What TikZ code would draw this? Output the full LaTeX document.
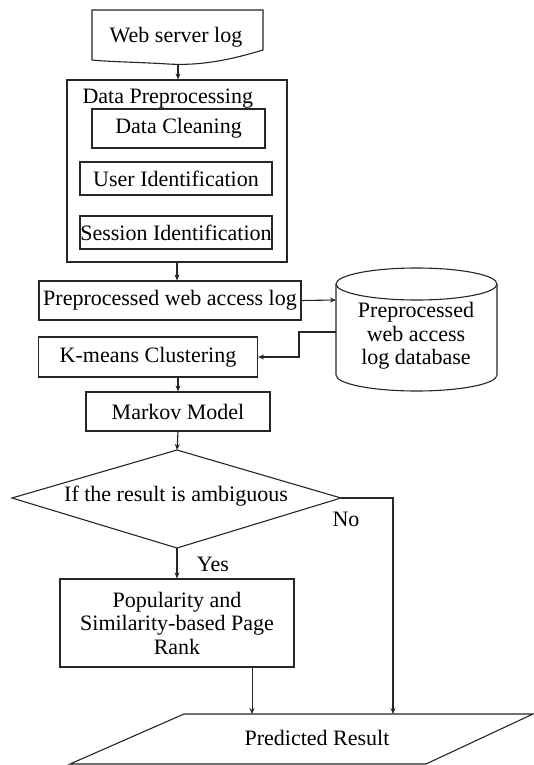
\documentclass[tikz,border=0pt]{standalone}
\usepackage{fontspec}
\setmainfont{Liberation Serif}
\usetikzlibrary{arrows.meta}
\begin{document}
\begin{tikzpicture}[x=1pt,y=-1pt,
  line width=1.1pt, draw=black!85,
  txt/.style={font=\fontsize{22}{23.5}\selectfont, inner sep=0pt, align=center},
  box/.style={txt, draw, rectangle},
  arr/.style={-{Stealth[length=6pt,width=5pt]}},
  lbl/.style={font=\fontsize{22}{23.5}\selectfont, inner sep=0pt}]
\useasboundingbox[fill=white] (0,0) rectangle (534,765);

% Web server log (document shape)
\draw (92,10) -- (263,10) -- (263,50)
  .. controls (230,60) and (200,66) .. (168,64)
  .. controls (135,62) and (112,62) .. (92,60) -- cycle;
\node[txt] (web) at (176,37) {Web server log};
\coordinate (webbot) at (178,64);

% Data preprocessing
\node[box, minimum width=220pt, minimum height=182pt] (prep) at (177,171) {};
\node[lbl, anchor=base west] (preptitle) at (82,104) {Data Preprocessing};
\node[box, minimum width=173pt, minimum height=39pt] (clean) at (178.5,128.5) {Data Cleaning};
\node[box, minimum width=192pt, minimum height=33pt] (user) at (176,178.5) {User Identification};
\node[box, minimum width=192pt, minimum height=33pt] (sess) at (176,232.5) {Session Identification};

% Preprocessed web access log
\node[box, minimum width=262pt, minimum height=39pt] (pre) at (170,300.5) {Preprocessed web access log};

% Cylinder
\draw (336,284) -- (336,375) arc[start angle=180, end angle=360, x radius=80.5pt, y radius=16pt]
  -- (497,284);
\draw (416.5,284) ellipse [x radius=80.5pt, y radius=16pt];
\node[txt] (db) at (416,336) {Preprocessed\\web access\\log database};
\coordinate (dbin) at (336,300);
\coordinate (dbout) at (336,332);

% K-means
\node[box, minimum width=219pt, minimum height=40pt] (km) at (148,357) {K-means Clustering};
% Markov
\node[box, minimum width=184pt, minimum height=39pt] (mm) at (178,411.5) {Markov Model};

% Decision diamond
\coordinate (dtop) at (177,450);
\coordinate (dleft) at (12,498);
\coordinate (dright) at (341,498);
\coordinate (dbot) at (177,548);
\draw (dtop) -- (dright) -- (dbot) -- (dleft) -- cycle;
\node[txt] (dec) at (176,496) {If the result is ambiguous};
\node[lbl] (no) at (346,519) {No};
\node[lbl] (yes) at (213,564) {Yes};

% Popularity
\node[box, minimum width=234pt, minimum height=88pt] (pop) at (177,623) {Popularity and\\Similarity-based Page\\Rank};

% Predicted result (parallelogram)
\draw (184,714) -- (533,714) -- (426,764) -- (70,764) -- cycle;
\node[txt] (pred) at (317,738) {Predicted Result};
\coordinate (predin1) at (252,714);
\coordinate (predin2) at (393,714);
\coordinate (nocorner) at (393,498);

% Connectors
\draw[arr] (webbot) -- (webbot |- prep.north);
\draw[arr] (prep.south) -- (prep.south |- pre.north);
\draw[arr] (pre.east) -- (dbin);
\draw[arr] (dbout) -- (299,332) |- (km.east);
\draw[arr] (mm.north |- km.south) -- (mm.north);
\draw[arr] (mm.south) -- (dtop);
\draw[arr] (dbot) -- (dbot |- pop.north);
\draw[arr] (dright) -- (nocorner) -- (predin2);
\draw[arr, line width=0.8pt] (pop.south -| predin1) -- (predin1);
\end{tikzpicture}
\end{document}
